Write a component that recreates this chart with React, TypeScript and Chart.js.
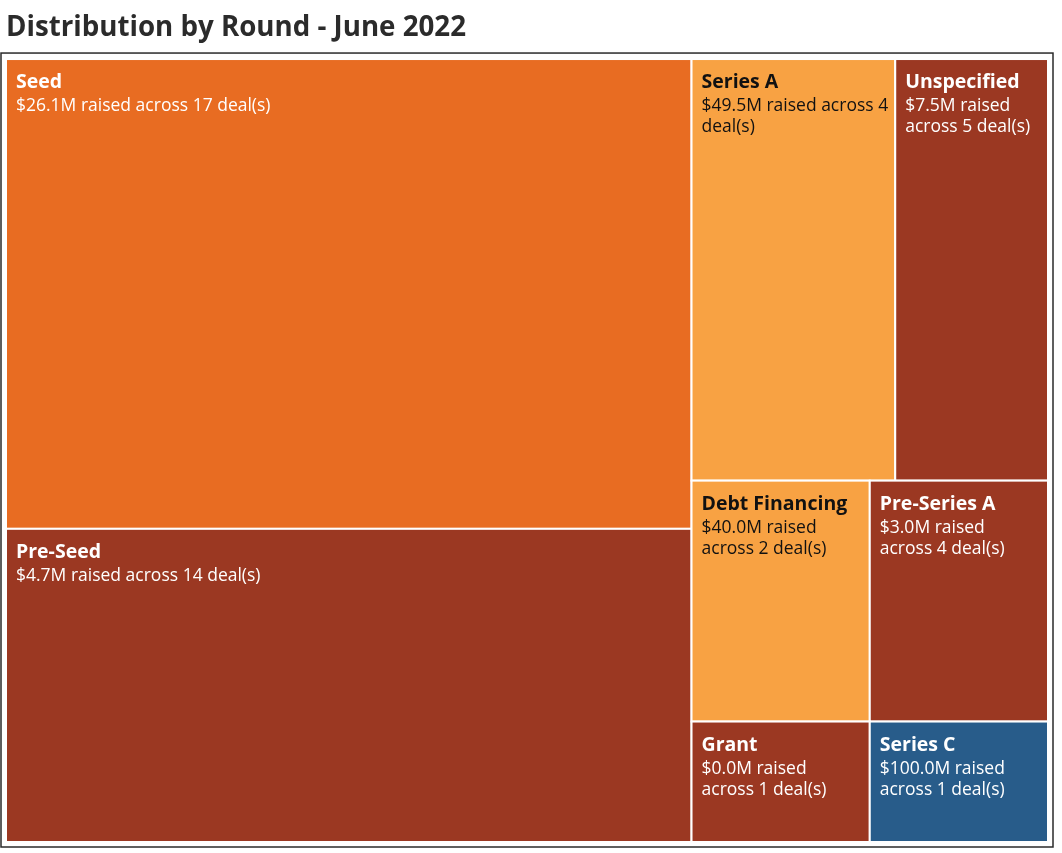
import React, { useEffect, useRef } from "react";
import { Chart, registerables } from "chart.js";

Chart.register(...registerables);

const TITLE = "Distribution by Round - June 2022";
const rounds = ["Seed", "Pre-Seed", "Series A", "Unspecified", "Debt Financing", "Pre-Series A", "Grant", "Series C"];
const sizes = [15, 10, 4, 3, 2, 2, 1, 1];
const raisedM = [26.1, 4.7, 49.5, 7.5, 40.0, 3.0, 0.0, 100.0];
const deals = [17, 14, 4, 5, 2, 4, 1, 1];
// number of words on the first detail line (0 = single line), as in the reference
const firstLineWords = [0, 0, 4, 2, 2, 2, 2, 2];
const cellColors = ["#E86C22", "#9B3822", "#F8A243", "#9B3822", "#F8A243", "#9B3822", "#9B3822", "#285C8A"];
const textColors = ["#FFFFFF", "#FFFFFF", "#111111", "#FFFFFF", "#111111", "#FFFFFF", "#FFFFFF", "#FFFFFF"];

const FONT = "'Open Sans', 'Noto Sans', sans-serif";

type Rect = { i: number; x0: number; y0: number; x1: number; y1: number };

// d3-style squarify with golden ratio
function squarify(values: number[], W: number, H: number): Rect[] {
  const ratio = (1 + Math.sqrt(5)) / 2;
  const out: Rect[] = [];
  let x0 = 0, y0 = 0, x1 = W, y1 = H;
  let value = values.reduce((a, b) => a + b, 0);
  const n = values.length;
  let i0 = 0, i1 = 0;
  while (i0 < n) {
    const dx = x1 - x0, dy = y1 - y0;
    let sumValue = values[i1++];
    let minValue = sumValue, maxValue = sumValue;
    const alpha = Math.max(dy / dx, dx / dy) / (value * ratio);
    let beta = sumValue * sumValue * alpha;
    let minRatio = Math.max(maxValue / beta, beta / minValue);
    for (; i1 < n; ++i1) {
      const nv = values[i1];
      sumValue += nv;
      if (nv < minValue) minValue = nv;
      if (nv > maxValue) maxValue = nv;
      beta = sumValue * sumValue * alpha;
      const newRatio = Math.max(maxValue / beta, beta / minValue);
      if (newRatio > minRatio) { sumValue -= nv; break; }
      minRatio = newRatio;
    }
    const dice = dx < dy;
    if (dice) {
      const ny = y0 + (dy * sumValue) / value;
      let cx = x0;
      for (let k = i0; k < i1; k++) {
        const w = (dx * values[k]) / sumValue;
        out.push({ i: k, x0: cx, y0, x1: cx + w, y1: ny });
        cx += w;
      }
      y0 = ny;
    } else {
      const nx = x0 + (dx * sumValue) / value;
      let cy = y0;
      for (let k = i0; k < i1; k++) {
        const h = (dy * values[k]) / sumValue;
        out.push({ i: k, x0, y0: cy, x1: nx, y1: cy + h });
        cy += h;
      }
      x0 = nx;
    }
    value -= sumValue;
    i0 = i1;
  }
  return out;
}

function detailLines(i: number): string[] {
  const words = `$${raisedM[i].toFixed(1)}M raised across ${deals[i]} deal(s)`.split(" ");
  const k = firstLineWords[i];
  if (!k) return [words.join(" ")];
  return [words.slice(0, k).join(" "), words.slice(k).join(" ")];
}

const treemapPlugin = {
  id: "treemapCells",
  beforeDatasetsDraw(chart: any) {
    const { ctx, chartArea } = chart;
    const xs = chart.scales.x, ys = chart.scales.y;
    const W = chartArea.right - chartArea.left;
    const H = chartArea.bottom - chartArea.top;
    const rects = squarify(sizes, W, H);
    ctx.save();
    // outer frame
    ctx.strokeStyle = "#2a2a2a";
    ctx.lineWidth = 1.5;
    ctx.strokeRect(chartArea.left - 5, chartArea.top - 6, W + 10, H + 11);
    for (const r of rects) {
      const px0 = xs.getPixelForValue(r.x0 / W);
      const px1 = xs.getPixelForValue(r.x1 / W);
      const py0 = ys.getPixelForValue(r.y0 / H);
      const py1 = ys.getPixelForValue(r.y1 / H);
      const left = Math.min(px0, px1), right = Math.max(px0, px1);
      const top = Math.min(py0, py1), bottom = Math.max(py0, py1);
      ctx.fillStyle = cellColors[r.i];
      ctx.fillRect(left, top, right - left, bottom - top);
      ctx.strokeStyle = "#FFFFFF";
      ctx.lineWidth = 2;
      ctx.strokeRect(left, top, right - left, bottom - top);
      const pad = 10;
      ctx.fillStyle = textColors[r.i];
      ctx.textAlign = "left";
      ctx.textBaseline = "alphabetic";
      ctx.font = `bold 19.5px ${FONT}`;
      let y = top + 29;
      ctx.fillText(rounds[r.i], left + pad, y);
      ctx.font = `17.5px ${FONT}`;
      y += 2;
      for (const line of detailLines(r.i)) {
        y += 21;
        ctx.fillText(line, left + pad, y);
      }
    }
    ctx.restore();
  },
};

export default function App() {
  const ref = useRef<HTMLCanvasElement | null>(null);
  useEffect(() => {
    document.body.style.margin = "0";
    const canvas = ref.current!;
    const chart = new Chart(canvas, {
      type: "scatter",
      data: { datasets: [{ data: [], pointRadius: 0 }] },
      options: {
        animation: false,
        responsive: false,
        maintainAspectRatio: false,
        layout: { padding: { left: 6, right: 14, top: 0, bottom: 11 } },
        scales: {
          x: { type: "linear", min: 0, max: 1, display: false },
          y: { type: "linear", min: 0, max: 1, reverse: true, display: false },
        },
        plugins: {
          legend: { display: false },
          tooltip: { enabled: false },
          title: {
            display: true,
            text: TITLE,
            align: "start",
            color: "#2b2b2b",
            font: { family: FONT, size: 27.7, weight: "bold", lineHeight: 1.2 },
            padding: { top: 11, bottom: 14.8 },
          },
        },
      },
      plugins: [treemapPlugin],
    });
    return () => chart.destroy();
  }, []);
  return <canvas ref={ref} width={1062} height={853} style={{ display: "block" }} />;
}
